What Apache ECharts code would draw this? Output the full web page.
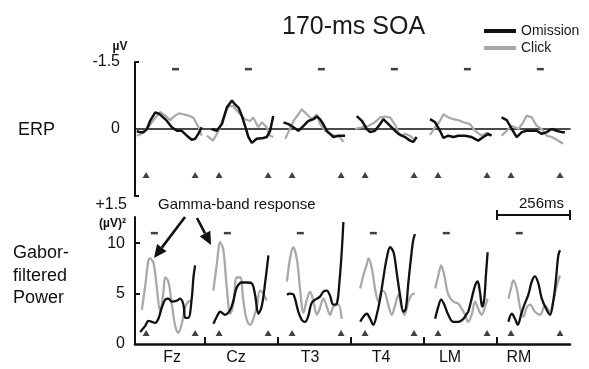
<!DOCTYPE html>
<html>
<head>
<meta charset="utf-8">
<script src="https://cdn.jsdelivr.net/npm/echarts@6/dist/echarts.min.js"></script>
<style>
  html, body { margin: 0; background: #fff; }
  #chart { width: 589px; height: 369px; }
</style>
</head>
<body>
<div id="chart"></div>
<script>
const electrodes = ['Fz', 'Cz', 'T3', 'T4', 'LM', 'RM']
const segmentMs = 256
// where the electrode names sit along the time axis (ms)
const labelTimes = [140, 364, 624, 873, 1115, 1357]
const triangleTimes = [49, 221]
const erpDashTime = 152
const powerDashTime = 78

// ERP, µV, [ms within segment, value]; negative is drawn upward
const erpOmission = [
  [[16, 0.05], [28, 0.07], [40, 0.07], [52, 0.0], [63, -0.18], [81, -0.37], [92, -0.35], [104, -0.29], [122, -0.18], [139, -0.04], [157, 0.04], [174, 0.04], [192, 0.15], [209, 0.24], [221, 0.22], [232, 0.11], [244, -0.04]],
  [[23, 0.0], [41, 0.04], [59, -0.11], [76, -0.48], [94, -0.64], [105, -0.55], [117, -0.48], [129, -0.29], [140, -0.07], [152, 0.18], [164, 0.31], [181, 0.22], [204, 0.2], [216, 0.18], [228, 0.04], [239, -0.29]],
  [[19, -0.15], [36, -0.11], [54, -0.04], [71, 0.04], [89, -0.07], [106, -0.18], [124, -0.22], [136, -0.28], [147, -0.22], [159, -0.1], [171, 0.04], [182, 0.11], [194, 0.18], [211, 0.15], [235, 0.15]],
  [[20, -0.29], [38, -0.18], [55, 0.0], [67, 0.07], [84, 0.04], [102, -0.11], [113, -0.22], [131, -0.11], [148, 0.0], [166, 0.11], [189, 0.18], [207, 0.26], [218, 0.29], [230, 0.18]],
  [[21, -0.22], [39, -0.15], [56, 0.04], [68, 0.2], [85, 0.15], [103, 0.18], [120, 0.15], [144, 0.15], [167, 0.18], [190, 0.26], [208, 0.18], [225, 0.11], [237, 0.15]],
  [[16, -0.26], [34, -0.2], [52, 0.0], [69, 0.18], [87, 0.07], [104, 0.04], [122, 0.04], [139, 0.04], [157, 0.11], [174, 0.07], [192, 0.0], [209, 0.04], [227, 0.07], [238, 0.07]],
]
const erpClick = [
  [[16, 0.15], [34, 0.1], [56, -0.04], [81, -0.25], [98, -0.38], [116, -0.3], [133, -0.2], [151, -0.3], [165, -0.35], [180, -0.33], [197, -0.3], [215, -0.25], [232, -0.05], [244, 0.15]],
  [[6, 0.15], [28, 0.26], [47, 0.04], [64, -0.26], [82, -0.51], [99, -0.51], [117, -0.37], [140, -0.22], [158, -0.18], [169, -0.26], [187, -0.04], [199, -0.15], [216, -0.04], [228, 0.15], [239, 0.18]],
  [[25, 0.22], [36, 0.07], [54, -0.18], [71, -0.33], [83, -0.44], [101, -0.33], [118, -0.22], [136, -0.33], [147, -0.11], [165, 0.04], [182, 0.11], [200, 0.15], [217, 0.18], [229, 0.29]],
  [[14, 0.0], [38, -0.04], [61, -0.07], [84, -0.15], [102, -0.26], [119, -0.28], [137, -0.26], [154, -0.1], [172, 0.15], [189, 0.11], [207, 0.15], [218, 0.22]],
  [[21, 0.13], [39, -0.04], [56, -0.18], [68, -0.33], [85, -0.26], [103, -0.22], [120, -0.2], [138, -0.15], [161, -0.11], [179, 0.04], [202, 0.15], [220, 0.08], [231, 0.15]],
  [[16, 0.15], [34, 0.04], [52, -0.07], [75, 0.0], [92, -0.15], [104, -0.3], [122, -0.26], [139, -0.07], [157, 0.0], [174, 0.15], [192, 0.18], [209, 0.24], [232, 0.33]],
]

// Gabor-filtered power, (µV)²
const powerOmission = [
  [[28, 1.2], [46, 1.8], [57, 2.3], [69, 2.2], [81, 2.1], [92, 2.5], [104, 3.6], [116, 4.4], [127, 4.5], [139, 4.2], [157, 4.3], [168, 4.5], [180, 3.9], [186, 2.6], [197, 2.6], [209, 4.5], [215, 6.6], [221, 7.8]],
  [[29, 2.0], [41, 2.7], [53, 3.2], [70, 2.9], [88, 3.4], [99, 4.3], [111, 5.6], [129, 6.1], [146, 6.1], [164, 6.0], [175, 4.9], [187, 3.0], [199, 3.8], [211, 6.2], [222, 8.8]],
  [[31, 4.9], [42, 5.0], [54, 4.9], [71, 3.2], [83, 2.4], [95, 2.2], [106, 2.8], [118, 4.1], [136, 4.5], [147, 4.7], [159, 5.2], [171, 5.3], [182, 4.8], [194, 3.9], [206, 4.0], [215, 6.1], [224, 9.5], [229, 12.1]],
  [[32, 2.2], [43, 2.7], [55, 3.0], [67, 2.5], [78, 1.9], [90, 2.9], [102, 4.5], [113, 6.5], [125, 8.5], [137, 9.6], [149, 9.1], [160, 7.1], [172, 4.8], [184, 3.2], [192, 3.5], [201, 6.1], [210, 8.5], [218, 10.3], [224, 10.9]],
  [[39, 2.5], [50, 3.7], [60, 4.4], [71, 3.9], [85, 2.9], [103, 2.2], [120, 2.2], [138, 2.5], [150, 3.0], [155, 3.2], [167, 4.5], [179, 5.8], [188, 6.2], [196, 5.2], [204, 3.7], [211, 4.4], [217, 6.8], [223, 9.1]],
  [[40, 2.2], [52, 3.0], [63, 2.5], [73, 1.9], [84, 2.9], [96, 3.9], [110, 4.9], [122, 6.2], [133, 6.7], [145, 6.0], [157, 4.5], [174, 3.4], [186, 2.9], [197, 4.2], [206, 6.2], [215, 8.8], [221, 9.3]],
]
const powerClick = [
  [[34, 3.4], [46, 5.8], [57, 8.3], [63, 8.5], [75, 8.0], [87, 5.5], [98, 3.2], [110, 5.2], [116, 6.6], [127, 6.2], [139, 4.0], [151, 1.8], [162, 1.1], [174, 2.0], [186, 3.6], [197, 4.2], [210, 4.3]],
  [[29, 5.3], [41, 7.9], [53, 10.1], [64, 9.3], [76, 5.6], [88, 3.0], [99, 4.0], [111, 6.6], [123, 6.6], [134, 4.3], [146, 2.4], [158, 1.9], [169, 2.5], [181, 3.7], [193, 5.3], [204, 5.0], [216, 4.3]],
  [[31, 6.2], [42, 8.5], [53, 9.6], [66, 8.4], [77, 5.5], [89, 3.1], [101, 4.4], [112, 5.2], [124, 4.2], [136, 2.9], [147, 3.6], [159, 4.5], [171, 3.7], [182, 2.9], [194, 3.7], [211, 3.9], [223, 2.5]],
  [[32, 5.5], [43, 6.8], [55, 7.9], [61, 8.5], [73, 7.5], [84, 5.5], [96, 4.2], [108, 5.3], [119, 5.1], [131, 3.8], [143, 2.9], [154, 3.8], [166, 4.9], [178, 3.5], [187, 2.9], [201, 4.2], [213, 4.9], [224, 5.0]],
  [[39, 5.5], [50, 6.8], [60, 7.8], [71, 6.8], [85, 4.9], [103, 4.2], [120, 4.0], [132, 3.5], [144, 2.9], [155, 2.2], [167, 2.9], [179, 4.2], [190, 3.5], [202, 2.9], [214, 3.7], [223, 4.5]],
  [[40, 4.5], [49, 5.5], [57, 6.3], [69, 5.5], [81, 3.6], [92, 2.7], [104, 3.6], [116, 3.9], [133, 3.2], [151, 2.9], [168, 3.8], [186, 3.2], [197, 4.2], [209, 5.7], [221, 6.8]],
]

const black = '#111111'
const gray = '#a9a9a9'
const font = 'Liberation Sans, Arial, sans-serif'

function shift(segment, i) {
  return segment.map(([t, v]) => [i * segmentMs + t, v])
}

function traces(list, name, color, axis, smooth, width) {
  return list.map((segment, i) => ({
    name,
    type: 'line',
    xAxisIndex: axis,
    yAxisIndex: axis,
    data: shift(segment, i),
    showSymbol: false,
    smooth,
    silent: true,
    z: color === black ? 3 : 2,
    lineStyle: { color, width },
    itemStyle: { color },
  }))
}

function markers(axis, times, value, symbol, size) {
  const data = []
  electrodes.forEach((_, i) => times.forEach((t) => data.push([i * segmentMs + t, value])))
  return {
    type: 'scatter',
    xAxisIndex: axis,
    yAxisIndex: axis,
    data,
    symbol,
    symbolSize: size,
    silent: true,
    itemStyle: { color: black },
  }
}

const series = [
  ...traces(erpClick, 'Click', gray, 0, false, 2.2),
  ...traces(erpOmission, 'Omission', black, 0, false, 2.5),
  ...traces(powerClick, 'Click', gray, 1, 0.35, 2.3),
  ...traces(powerOmission, 'Omission', black, 1, 0.35, 2.3),
  markers(0, triangleTimes, 1.03, 'triangle', [7, 6]),
  markers(0, [erpDashTime], -1.34, 'rect', [7, 2.5]),
  markers(1, triangleTimes, 1.1, 'triangle', [7, 6]),
  markers(1, [powerDashTime], 11.0, 'rect', [7, 2.5]),
]

const axisText = { color: black, fontSize: 16, fontFamily: font }

function arrow(x1, y1, x2, y2) {
  const a = Math.atan2(y2 - y1, x2 - x1)
  const len = 13, half = 6
  const bx = x2 - len * Math.cos(a), by = y2 - len * Math.sin(a)
  const px = -Math.sin(a) * half, py = Math.cos(a) * half
  return [
    { type: 'line', shape: { x1, y1, x2: bx, y2: by }, style: { stroke: black, lineWidth: 2.6 } },
    { type: 'polygon', shape: { points: [[x2, y2], [bx + px, by + py], [bx - px, by - py]] }, style: { fill: black } },
  ]
}

const chart = echarts.init(document.getElementById('chart'), null, { renderer: 'canvas' })

chart.setOption({
  animation: false,
  backgroundColor: '#fff',
  title: {
    text: '170-ms SOA',
    left: 277,
    top: 10,
    textStyle: { fontSize: 25, fontWeight: 'normal', color: '#1a1a1a', fontFamily: font },
  },
  legend: {
    data: ['Omission', 'Click'],
    orient: 'vertical',
    left: 479,
    top: 19,
    icon: 'rect',
    itemWidth: 32,
    itemHeight: 4,
    itemGap: 3,
    textStyle: { fontSize: 14, color: '#1a1a1a', fontFamily: font },
  },
  grid: [
    { left: 135, top: 62, width: 435, height: 134 },
    { left: 135, top: 217, width: 435, height: 127 },
  ],
  xAxis: [
    {
      gridIndex: 0,
      type: 'value',
      min: 10,
      max: 1536,
      axisLine: { show: true, onZero: true, lineStyle: { color: black, width: 1.6 } },
      axisTick: { show: false },
      axisLabel: { show: false },
      splitLine: { show: false },
    },
    {
      gridIndex: 1,
      type: 'value',
      min: 10,
      max: 1536,
      axisLine: { show: true, onZero: false, lineStyle: { color: black, width: 2.6 } },
      axisTick: {
        show: true,
        inside: true,
        length: 7,
        customValues: [256, 512, 768, 1024, 1280],
        lineStyle: { color: black, width: 2 },
      },
      axisLabel: {
        ...axisText,
        margin: 6,
        customValues: labelTimes,
        formatter: (v) => electrodes[labelTimes.indexOf(v)] || '',
      },
      splitLine: { show: false },
    },
  ],
  yAxis: [
    {
      gridIndex: 0,
      type: 'value',
      inverse: true,
      min: -1.5,
      max: 1.5,
      axisLine: { show: true, onZero: false, lineStyle: { color: black, width: 2 } },
      axisTick: { show: true, inside: true, length: 4, customValues: [-1.5, 1.5], lineStyle: { color: black, width: 2 } },
      axisLabel: { ...axisText, margin: 15, customValues: [-1.5, 0], formatter: (v) => (v === 0 ? '0' : '-1.5') },
      splitLine: { show: false },
    },
    {
      gridIndex: 1,
      type: 'value',
      min: 0,
      max: 12.6,
      axisLine: { show: true, onZero: false, lineStyle: { color: black, width: 2 } },
      axisTick: { show: true, inside: true, length: 5, customValues: [5, 10], lineStyle: { color: black, width: 2 } },
      axisLabel: { ...axisText, margin: 10, customValues: [0, 5, 10] },
      splitLine: { show: false },
    },
  ],
  series,
})

// scale bar spans one segment of the power time axis
const barL = chart.convertToPixel({ xAxisIndex: 1 }, 1280)
const barR = chart.convertToPixel({ xAxisIndex: 1 }, 1536)
const barY = 215

chart.setOption({
  graphic: [
    { type: 'text', left: 18, top: 121, style: { text: 'ERP', fontSize: 18, fill: black, fontFamily: font } },
    {
      type: 'text', left: 13, top: 242,
      style: { text: 'Gabor-\nfiltered\nPower', fontSize: 18, lineHeight: 22.5, fill: black, fontFamily: font },
    },
    { type: 'text', x: 120, y: 47, style: { text: 'µV', fontSize: 12, fontWeight: 'bold', fill: black, align: 'center', verticalAlign: 'middle', fontFamily: font } },
    { type: 'text', x: 127, y: 205, style: { text: '+1.5', fontSize: 16, fill: black, align: 'right', verticalAlign: 'middle', fontFamily: font } },
    { type: 'text', x: 126, y: 224, style: { text: '(µV)²', fontSize: 12, fontWeight: 'bold', fill: black, align: 'right', verticalAlign: 'middle', fontFamily: font } },
    { type: 'text', x: 158, y: 205, style: { text: 'Gamma-band response', fontSize: 15, fill: black, verticalAlign: 'middle', fontFamily: font } },
    { type: 'text', x: (barL + barR) / 2 + 8, y: 204, style: { text: '256ms', fontSize: 15, fill: black, align: 'center', verticalAlign: 'middle', fontFamily: font } },
    { type: 'line', shape: { x1: barL, y1: barY, x2: barR, y2: barY }, style: { stroke: black, lineWidth: 2 } },
    { type: 'line', shape: { x1: barL, y1: barY - 5, x2: barL, y2: barY + 5 }, style: { stroke: black, lineWidth: 2 } },
    { type: 'line', shape: { x1: barR, y1: barY - 5, x2: barR, y2: barY + 5 }, style: { stroke: black, lineWidth: 2 } },
    ...arrow(185, 217, 154, 258),
    ...arrow(197, 218, 211, 245),
  ],
})
</script>
</body>
</html>
